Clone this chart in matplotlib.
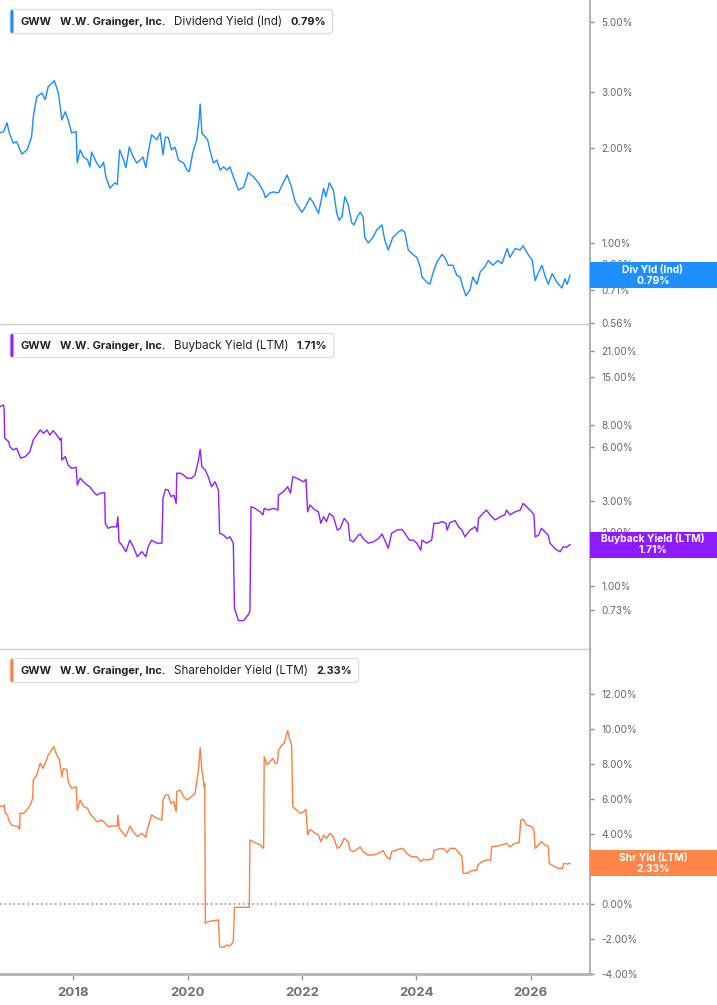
import matplotlib
matplotlib.use("Agg")
import matplotlib.pyplot as plt
from matplotlib.patches import Rectangle, FancyBboxPatch
from matplotlib.transforms import IdentityTransform
from matplotlib.ticker import FixedLocator, NullLocator, FuncFormatter

# ---- data (values in %) ----
ticker = "GWW"
company = "W.W. Grainger, Inc."

div_years = [
    2016.72, 2016.78, 2016.84, 2016.88, 2016.95, 2017.01, 2017.10, 2017.19, 2017.27, 2017.30,
    2017.36, 2017.45, 2017.51, 2017.56, 2017.67, 2017.74, 2017.80, 2017.86, 2017.91, 2017.97,
    2018.05, 2018.07, 2018.12, 2018.18, 2018.25, 2018.29, 2018.32, 2018.41, 2018.47, 2018.53,
    2018.57, 2018.64, 2018.73, 2018.77, 2018.81, 2018.88, 2018.92, 2018.98, 2019.05, 2019.11,
    2019.17, 2019.22, 2019.27, 2019.31, 2019.37, 2019.46, 2019.52, 2019.57, 2019.61, 2019.66,
    2019.72, 2019.78, 2019.84, 2019.93, 2019.99, 2020.03, 2020.09, 2020.16, 2020.20, 2020.22,
    2020.25, 2020.31, 2020.35, 2020.39, 2020.45, 2020.51, 2020.57, 2020.63, 2020.69, 2020.74,
    2020.80, 2020.89, 2020.98, 2021.06, 2021.15, 2021.24, 2021.33, 2021.36, 2021.44, 2021.50,
    2021.59, 2021.68, 2021.74, 2021.82, 2021.88, 2021.94, 2022.00, 2022.06, 2022.14, 2022.20,
    2022.29, 2022.38, 2022.42, 2022.48, 2022.55, 2022.61, 2022.65, 2022.70, 2022.75, 2022.81,
    2022.87, 2022.91, 2022.99, 2023.02, 2023.07, 2023.10, 2023.16, 2023.24, 2023.31, 2023.40,
    2023.45, 2023.51, 2023.59, 2023.68, 2023.75, 2023.80, 2023.86, 2023.94, 2024.01, 2024.07,
    2024.10, 2024.19, 2024.24, 2024.29, 2024.36, 2024.45, 2024.50, 2024.56, 2024.64, 2024.71,
    2024.77, 2024.80, 2024.87, 2024.94, 2024.99, 2025.06, 2025.12, 2025.20, 2025.26, 2025.34,
    2025.43, 2025.50, 2025.59, 2025.64, 2025.73, 2025.82, 2025.87, 2025.94, 2026.03, 2026.08,
    2026.13, 2026.20, 2026.25, 2026.31, 2026.38, 2026.46, 2026.55, 2026.60, 2026.64, 2026.69,
]
div_yield = [
    2.23, 2.25, 2.40, 2.23, 2.07, 2.09, 1.91, 1.97, 2.16, 2.50,
    2.90, 2.98, 2.84, 3.12, 3.26, 2.98, 2.45, 2.60, 2.45, 2.23,
    2.25, 1.79, 1.97, 1.87, 1.83, 1.74, 1.94, 1.79, 1.73, 1.80,
    1.62, 1.49, 1.55, 1.53, 1.97, 1.83, 1.73, 2.01, 1.87, 1.79,
    1.83, 1.87, 1.73, 1.93, 2.20, 2.12, 2.23, 1.90, 2.16, 2.16,
    1.97, 2.01, 1.83, 1.79, 1.70, 1.68, 1.93, 2.12, 2.45, 2.75,
    2.23, 2.16, 2.12, 1.97, 1.79, 1.83, 1.70, 1.74, 1.70, 1.74,
    1.62, 1.47, 1.50, 1.67, 1.62, 1.55, 1.45, 1.39, 1.44, 1.45,
    1.44, 1.56, 1.64, 1.50, 1.35, 1.30, 1.25, 1.30, 1.39, 1.34,
    1.24, 1.49, 1.40, 1.55, 1.47, 1.24, 1.18, 1.21, 1.40, 1.32,
    1.16, 1.14, 1.23, 1.25, 1.21, 1.04, 1.00, 1.04, 1.10, 1.14,
    1.02, 0.95, 1.04, 1.08, 1.10, 1.08, 0.95, 0.92, 0.90, 0.84,
    0.78, 0.75, 0.74, 0.80, 0.87, 0.92, 0.90, 0.85, 0.85, 0.79,
    0.78, 0.74, 0.68, 0.71, 0.78, 0.74, 0.81, 0.84, 0.88, 0.85,
    0.88, 0.86, 0.96, 0.90, 0.96, 0.95, 0.98, 0.93, 0.88, 0.76,
    0.80, 0.85, 0.79, 0.74, 0.80, 0.75, 0.72, 0.77, 0.74, 0.79,
]

bb_years = [
    2016.72, 2016.78, 2016.79, 2016.80, 2016.87, 2016.89, 2016.95, 2017.01, 2017.08, 2017.16,
    2017.24, 2017.30, 2017.36, 2017.42, 2017.48, 2017.54, 2017.59, 2017.65, 2017.71, 2017.77,
    2017.79, 2017.80, 2017.86, 2017.91, 2017.97, 2018.05, 2018.07, 2018.12, 2018.18, 2018.24,
    2018.29, 2018.35, 2018.41, 2018.47, 2018.53, 2018.55, 2018.56, 2018.61, 2018.67, 2018.76,
    2018.78, 2018.80, 2018.85, 2018.92, 2018.99, 2019.05, 2019.12, 2019.20, 2019.27, 2019.31,
    2019.37, 2019.46, 2019.55, 2019.57, 2019.61, 2019.66, 2019.71, 2019.76, 2019.80, 2019.81,
    2019.87, 2019.93, 2019.99, 2020.07, 2020.13, 2020.19, 2020.22, 2020.25, 2020.31, 2020.36,
    2020.42, 2020.48, 2020.54, 2020.56, 2020.63, 2020.69, 2020.74, 2020.80, 2020.82, 2020.89,
    2020.98, 2021.06, 2021.09, 2021.11, 2021.18, 2021.27, 2021.32, 2021.34, 2021.41, 2021.50,
    2021.58, 2021.59, 2021.68, 2021.75, 2021.80, 2021.84, 2021.91, 2021.97, 2022.03, 2022.07,
    2022.10, 2022.14, 2022.23, 2022.29, 2022.33, 2022.38, 2022.43, 2022.48, 2022.55, 2022.62,
    2022.67, 2022.74, 2022.81, 2022.84, 2022.90, 2022.99, 2023.02, 2023.07, 2023.16, 2023.25,
    2023.34, 2023.40, 2023.45, 2023.51, 2023.57, 2023.66, 2023.75, 2023.80, 2023.88, 2023.95,
    2024.01, 2024.08, 2024.10, 2024.18, 2024.27, 2024.31, 2024.39, 2024.45, 2024.52, 2024.54,
    2024.59, 2024.68, 2024.74, 2024.80, 2024.85, 2024.94, 2025.03, 2025.07, 2025.09, 2025.17,
    2025.23, 2025.29, 2025.38, 2025.47, 2025.55, 2025.58, 2025.64, 2025.73, 2025.82, 2025.87,
    2025.93, 2026.02, 2026.06, 2026.08, 2026.14, 2026.19, 2026.25, 2026.31, 2026.34, 2026.40,
    2026.46, 2026.52, 2026.57, 2026.63, 2026.69,
]
bb_yield = [
    10.17, 10.40, 9.87, 6.76, 6.47, 6.06, 5.81, 5.94, 5.22, 5.33,
    5.68, 6.61, 7.05, 7.52, 7.21, 7.52, 7.05, 7.46, 7.05, 6.61,
    6.76, 5.10, 5.33, 4.78, 4.58, 4.64, 3.69, 4.03, 3.85, 3.69,
    3.61, 3.39, 3.24, 3.32, 3.34, 3.34, 2.25, 2.11, 2.15, 2.15,
    2.45, 1.77, 1.70, 1.56, 1.81, 1.66, 1.46, 1.56, 1.46, 1.66,
    1.81, 1.74, 1.74, 3.11, 3.49, 3.46, 3.18, 3.24, 2.91, 4.30,
    4.30, 4.20, 4.03, 4.03, 4.20, 5.10, 5.86, 4.68, 4.48, 4.11,
    3.61, 3.85, 3.46, 1.98, 1.93, 1.85, 1.89, 1.74, 0.75, 0.64,
    0.64, 0.69, 0.72, 2.79, 2.73, 2.61, 2.51, 2.73, 2.67, 2.73,
    2.67, 3.24, 3.39, 3.61, 3.32, 4.11, 4.03, 3.94, 3.85, 3.98,
    2.61, 2.85, 2.67, 2.61, 2.25, 2.45, 2.30, 2.56, 2.45, 2.06,
    2.11, 2.40, 2.25, 1.81, 1.77, 1.93, 1.96, 1.85, 1.74, 1.77,
    1.85, 1.96, 1.81, 1.63, 1.98, 2.06, 2.08, 1.98, 1.81, 1.81,
    1.74, 1.59, 1.81, 1.74, 1.81, 2.25, 2.25, 2.30, 2.25, 2.06,
    2.27, 2.33, 2.15, 2.06, 1.89, 2.06, 2.15, 2.02, 2.40, 2.56,
    2.67, 2.51, 2.35, 2.45, 2.51, 2.67, 2.51, 2.61, 2.67, 2.91,
    2.79, 2.61, 2.51, 1.89, 1.93, 2.11, 2.02, 1.93, 1.74, 1.66,
    1.59, 1.56, 1.66, 1.65, 1.71,
]

shr_years = [
    2016.72, 2016.77, 2016.79, 2016.81, 2016.85, 2016.87, 2016.92, 2016.98, 2017.04, 2017.06,
    2017.07, 2017.13, 2017.19, 2017.26, 2017.29, 2017.30, 2017.36, 2017.42, 2017.47, 2017.51,
    2017.56, 2017.62, 2017.66, 2017.71, 2017.76, 2017.80, 2017.83, 2017.89, 2017.91, 2017.97,
    2018.05, 2018.07, 2018.12, 2018.18, 2018.25, 2018.29, 2018.34, 2018.41, 2018.50, 2018.56,
    2018.61, 2018.70, 2018.77, 2018.78, 2018.80, 2018.85, 2018.92, 2018.99, 2019.05, 2019.12,
    2019.20, 2019.27, 2019.30, 2019.37, 2019.46, 2019.55, 2019.57, 2019.61, 2019.66, 2019.71,
    2019.76, 2019.80, 2019.81, 2019.87, 2019.93, 2019.99, 2020.07, 2020.13, 2020.19, 2020.22,
    2020.25, 2020.29, 2020.30, 2020.31, 2020.36, 2020.45, 2020.54, 2020.56, 2020.63, 2020.69,
    2020.74, 2020.80, 2020.82, 2020.92, 2021.01, 2021.08, 2021.09, 2021.18, 2021.27, 2021.33,
    2021.34, 2021.39, 2021.44, 2021.49, 2021.53, 2021.57, 2021.59, 2021.65, 2021.69, 2021.72,
    2021.75, 2021.79, 2021.82, 2021.84, 2021.91, 2021.97, 2022.03, 2022.07, 2022.10, 2022.14,
    2022.23, 2022.29, 2022.33, 2022.38, 2022.43, 2022.49, 2022.55, 2022.62, 2022.67, 2022.74,
    2022.81, 2022.84, 2022.90, 2022.99, 2023.02, 2023.07, 2023.16, 2023.25, 2023.34, 2023.42,
    2023.48, 2023.54, 2023.57, 2023.69, 2023.77, 2023.83, 2023.92, 2024.01, 2024.08, 2024.12,
    2024.21, 2024.29, 2024.31, 2024.42, 2024.50, 2024.54, 2024.59, 2024.68, 2024.75, 2024.80,
    2024.82, 2024.88, 2024.97, 2025.06, 2025.08, 2025.15, 2025.23, 2025.30, 2025.32, 2025.41,
    2025.50, 2025.58, 2025.64, 2025.73, 2025.80, 2025.83, 2025.87, 2025.93, 2026.02, 2026.06,
    2026.08, 2026.14, 2026.19, 2026.25, 2026.31, 2026.33, 2026.40, 2026.48, 2026.56, 2026.58,
    2026.64, 2026.69,
]
shr_yield = [
    5.60, 5.56, 5.66, 5.18, 5.09, 4.80, 4.51, 4.46, 4.42, 4.27,
    5.18, 5.18, 5.37, 5.75, 6.04, 7.09, 7.37, 8.04, 7.75, 8.04,
    8.51, 8.80, 8.99, 8.51, 8.23, 7.27, 7.75, 7.66, 6.99, 6.61,
    6.70, 5.37, 5.94, 5.56, 5.47, 5.18, 4.99, 4.70, 4.80, 4.61,
    4.42, 4.46, 4.46, 5.09, 4.33, 4.13, 3.85, 4.46, 4.13, 3.85,
    4.04, 3.81, 4.33, 5.09, 4.90, 4.80, 5.94, 6.23, 6.23, 5.75,
    5.85, 5.27, 6.42, 6.51, 6.13, 5.94, 6.13, 6.32, 7.66, 8.93,
    7.66, 6.70, 6.89, -1.10, -1.01, -0.95, -0.91, -2.44, -2.48, -2.34,
    -2.40, -2.15, -0.19, -0.19, -0.19, -0.19, 3.66, 3.50, 3.37, 3.18,
    8.42, 7.94, 8.13, 8.33, 8.04, 8.04, 8.80, 9.09, 9.18, 9.56,
    9.90, 9.37, 9.09, 5.56, 5.37, 5.18, 5.27, 5.41, 3.94, 4.27,
    4.04, 3.94, 3.56, 3.94, 3.75, 4.04, 3.85, 3.18, 3.27, 3.75,
    3.56, 3.09, 2.99, 3.18, 3.27, 2.99, 2.80, 2.80, 2.90, 3.05,
    2.70, 2.55, 2.99, 3.13, 3.18, 2.90, 2.70, 2.70, 2.42, 2.55,
    2.51, 2.61, 3.05, 3.18, 3.13, 2.93, 3.18, 3.18, 2.93, 2.70,
    1.75, 1.75, 1.90, 1.94, 2.23, 2.42, 2.51, 2.51, 3.27, 3.31,
    3.37, 3.47, 3.27, 3.47, 3.50, 4.80, 4.84, 4.51, 4.42, 4.23,
    3.18, 3.37, 3.56, 3.37, 3.31, 2.32, 2.17, 2.04, 2.04, 2.32,
    2.29, 2.33,
]

panel_titles = ["Dividend Yield (Ind)", "Buyback Yield (LTM)", "Shareholder Yield (LTM)"]
badge_labels = ["Div Yld (Ind)", "Buyback Yield (LTM)", "Shr Yld (LTM)"]
div_ticks = [0.56, 0.71, 0.86, 1.0, 2.0, 3.0, 5.0]
bb_ticks = [0.44, 0.73, 1.0, 2.0, 3.0, 6.0, 8.0, 15.0, 21.0]
shr_ticks = [-4, -2, 0, 2, 4, 6, 8, 10, 12]
year_ticks = [2018, 2020, 2022, 2024, 2026]

# ---- layout (pixels) ----
W, H = 717, 1005
PLOT_RIGHT = 590
XLIM = (2016.718, 2027.04)

plt.rcParams['font.family'] = ['Inter', 'DejaVu Sans']

fig = plt.figure(figsize=(W / 100, H / 100), dpi=100)
renderer = fig.canvas.get_renderer()
px = IdentityTransform()

panels = [
    dict(top=0, bottom=324, years=div_years, vals=div_yield, log=True, ylim=(0.554, 5.87),
         ticks=div_ticks, line="#1a8cff", badge="#1f8fff"),
    dict(top=324, bottom=649, years=bb_years, vals=bb_yield, log=True, ylim=(0.443, 29.6),
         ticks=bb_ticks, line="#8f20ff", badge="#8c1cff"),
    dict(top=649, bottom=974, years=shr_years, vals=shr_yield, log=False, ylim=(-4, 14.57),
         ticks=shr_ticks, line="#ff7f3f", badge="#ff8447"),
]

pct = FuncFormatter(lambda v, p: f"{v:.2f}%")

for i, p in enumerate(panels):
    ax = fig.add_axes([0, 1 - p["bottom"] / H, PLOT_RIGHT / W, (p["bottom"] - p["top"]) / H])
    ax.plot(p["years"], p["vals"], color=p["line"], lw=1.0, solid_joinstyle="round")
    if p["log"]:
        ax.set_yscale("log")
    ax.set_xlim(*XLIM)
    ax.set_ylim(*p["ylim"])
    ax.yaxis.set_major_locator(FixedLocator(p["ticks"]))
    ax.yaxis.set_minor_locator(NullLocator())
    ax.yaxis.set_major_formatter(pct)
    ax.yaxis.tick_right()
    ax.tick_params(axis="y", direction="out", length=3, width=1, color="#8a8a8a",
                   pad=5, labelsize=7.2, labelcolor="#666666")

    for s in ("left", "top"):
        ax.spines[s].set_visible(False)
    ax.spines["right"].set_color("#b3b3b3")
    ax.spines["right"].set_linewidth(1.5)

    if i < 2:
        ax.spines["bottom"].set_color("#cccccc")
        ax.spines["bottom"].set_linewidth(1.0)
        ax.set_xticks([])
    else:
        ax.axhline(0, color="#8a8a8a", lw=1.1, ls=(0, (1, 2)))
        ax.spines["bottom"].set_color("#b3b3b3")
        ax.spines["bottom"].set_linewidth(2.0)
        ax.set_xticks(year_ticks)
        ax.set_xticklabels([str(y) for y in year_ticks])
        ax.tick_params(axis="x", direction="out", length=4, width=1, color="#9a9a9a",
                       pad=5, labelsize=9.5, labelcolor="#707070")
        for lab in ax.get_xticklabels():
            lab.set_fontweight("bold")
    ax.patch.set_visible(False)

    last_val = p["vals"][-1]
    value_txt = f"{last_val:.2f}%"

    # legend chip at top-left
    box_top = p["top"] + 9.5
    yc = H - (box_top + 12)
    x = 20.5
    parts = [(ticker, "bold", 7.9), (company, "bold", 7.9),
             (panel_titles[i], "normal", 8.4), (value_txt, "bold", 7.9)]
    for s, w, fs in parts:
        t = fig.text(x, yc, s, transform=px, fontsize=fs, fontweight=w, color="#222222",
                     ha="left", va="center", zorder=7)
        x = t.get_window_extent(renderer).x1 + 8.5
    box_right = x - 8.5 + 6.5
    fig.add_artist(FancyBboxPatch((10, H - (box_top + 24)), box_right - 10, 24,
                                  boxstyle="round,pad=0,rounding_size=3", transform=px,
                                  fc="white", ec="#dddddd", lw=1, zorder=6))
    fig.add_artist(FancyBboxPatch((10.5, H - (box_top + 23.5)), 3, 23,
                                  boxstyle="round,pad=0,rounding_size=1.5", transform=px,
                                  fc=p["line"], ec="none", zorder=7))

    # value badge on the right axis
    _, ypix = ax.transData.transform((p["years"][-1], last_val))
    fig.add_artist(Rectangle((PLOT_RIGHT, ypix - 13), W - PLOT_RIGHT, 26, transform=px,
                             fc=p["badge"], ec="none", zorder=6))
    fig.text(653, ypix + 5.6, badge_labels[i], transform=px, fontsize=7.4, fontweight="bold",
             color="white", ha="center", va="center", zorder=7)
    fig.text(653, ypix - 5.8, value_txt, transform=px, fontsize=7.4, fontweight="bold",
             color="white", ha="center", va="center", zorder=7)

fig.savefig("out.png", dpi=100)
